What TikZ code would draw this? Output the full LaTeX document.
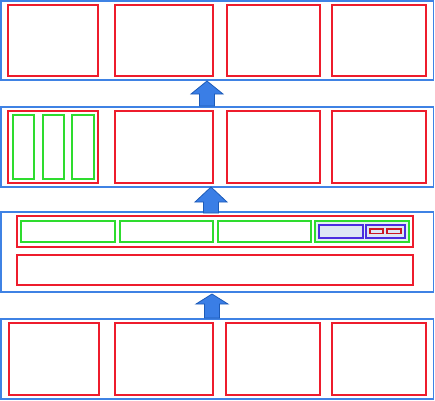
\documentclass[tikz,border=0pt]{standalone}
\usepackage{tikz}

\definecolor{layerblue}{HTML}{3F82E4}
\definecolor{boxred}{HTML}{EE1C2C}
\definecolor{cellgreen}{HTML}{2EDC2E}
\definecolor{slotblue}{HTML}{4A2EE0}
\definecolor{slotfill}{HTML}{DDE7F5}
\definecolor{cellfill}{HTML}{E2F1F1}
\definecolor{arrowfill}{HTML}{3A7EE6}
\definecolor{arrowline}{HTML}{1D5BB8}

\tikzset{
    layer/.style={draw=layerblue, line width=1.6pt},
    block/.style={draw=boxred, line width=1.6pt},
    cell/.style={draw=cellgreen, line width=1.6pt},
    slot/.style={draw=slotblue, fill=slotfill, line width=1.6pt},
    tiny/.style={draw=boxred!85!black, fill=slotfill, line width=1.3pt},
    uparrow/.style={fill=arrowfill, draw=arrowline, line width=0.8pt, line join=miter}
}

\begin{document}
\begin{tikzpicture}[x=1pt, y=-1pt]
        \useasboundingbox (0,0) rectangle (435,400);
        % layers
        \draw [layer] (0.8,0.8) rectangle (433.4,80);
        \draw [layer] (0.8,107) rectangle (433.4,187);
        \draw [layer] (0.8,212) rectangle (433.4,292);
        \draw [layer] (0.8,319) rectangle (433.4,399);
        % top layer
        \foreach \xa/\xb in {8/98, 115/213, 227/320, 332/426}
            \draw [block] (\xa,5) rectangle (\xb,76);
        % second layer
        \foreach \xa/\xb in {8/98, 115/213, 227/320, 332/426}
            \draw [block] (\xa,111) rectangle (\xb,183);
        \foreach \xa/\xb in {13/34, 43/64, 72/94}
            \draw [cell] (\xa,115) rectangle (\xb,179);
        % third layer
        \draw [block] (17,216) rectangle (413,247);
        \foreach \xa/\xb in {21/115, 120/213, 218/311}
            \draw [cell] (\xa,221) rectangle (\xb,242);
        \draw [cell, fill=cellfill] (315,221) rectangle (409,242);
        \draw [slot] (319,225) rectangle (363,238);
        \draw [slot] (366,225) rectangle (405,238);
        \draw [tiny] (370,229) rectangle (383,233.5);
        \draw [tiny] (387,229) rectangle (401,233.5);
        \draw [block] (17,255) rectangle (413,285);
        % bottom layer
        \foreach \xa/\xb in {9/99, 115/213, 226/320, 332/426}
            \draw [block] (\xa,323) rectangle (\xb,395);
        % arrows: centre / tip / head base / bottom
        \foreach \c/\t/\h/\b in {207/81/94/106, 211/187/202/213, 212/294/304/318}
            \draw [uparrow] (\c,\t) -- (\c+16,\h) -- (\c+7.5,\h) -- (\c+7.5,\b)
                -- (\c-7.5,\b) -- (\c-7.5,\h) -- (\c-16,\h) -- cycle;
\end{tikzpicture}
\end{document}
